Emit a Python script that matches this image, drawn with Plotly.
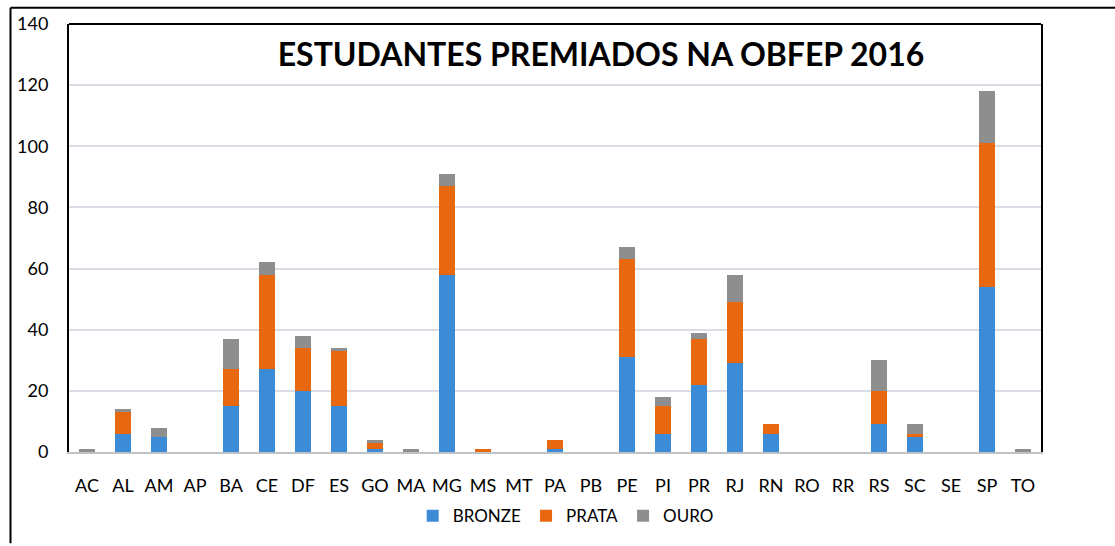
import plotly.graph_objects as go

states = ["AC", "AL", "AM", "AP", "BA", "CE", "DF", "ES", "GO", "MA", "MG", "MS", "MT", "PA",
          "PB", "PE", "PI", "PR", "RJ", "RN", "RO", "RR", "RS", "SC", "SE", "SP", "TO"]
bronze = [0, 6, 5, 0, 15, 27, 20, 15, 1, 0, 58, 0, 0, 1, 0, 31, 6, 22, 29, 6, 0, 0, 9, 5, 0, 54, 0]
prata = [0, 7, 0, 0, 12, 31, 14, 18, 2, 0, 29, 1, 0, 3, 0, 32, 9, 15, 20, 3, 0, 0, 11, 1, 0, 47, 0]
ouro = [1, 1, 3, 0, 10, 4, 4, 1, 1, 1, 4, 0, 0, 0, 0, 4, 3, 2, 9, 0, 0, 0, 10, 3, 0, 17, 1]
y_ticks = [0, 20, 40, 60, 80, 100, 120, 140]

FONT = "Lato"

fig = go.Figure()
fig.add_trace(go.Bar(name="BRONZE", x=states, y=bronze, marker=dict(color="#3b8bd6", line=dict(width=0))))
fig.add_trace(go.Bar(name="PRATA", x=states, y=prata, marker=dict(color="#e8680f", line=dict(width=0))))
fig.add_trace(go.Bar(name="OURO", x=states, y=ouro, marker=dict(color="#8e8e8e", line=dict(width=0))))

fig.update_layout(
    barmode="stack",
    bargap=0.58,
    width=1115,
    height=546,
    margin=dict(l=69, r=74, t=22, b=92),
    paper_bgcolor="white",
    plot_bgcolor="white",
    font=dict(family=FONT, color="black", size=18),
    title=dict(
        text="<b>ESTUDANTES PREMIADOS NA OBFEP 2016</b>",
        x=0.539, xanchor="center", xref="container",
        y=1 - 55 / 546, yanchor="middle", yref="container",
        font=dict(family=FONT, size=32, color="black"),
    ),
    legend=dict(
        orientation="h",
        x=0.511, xanchor="center",
        y=-0.150, yanchor="middle",
        font=dict(family=FONT, size=17, color="black"),
        traceorder="normal",
        itemwidth=30,
    ),
    showlegend=True,
)

fig.update_xaxes(
    type="category",
    showgrid=False,
    showline=True, linecolor="#bfc3c8", linewidth=2,
    ticks="", ticklabelstandoff=16,
    tickfont=dict(family=FONT, size=18, color="black"),
)
fig.update_yaxes(
    range=[0, 140],
    tickvals=y_ticks,
    showgrid=True, gridcolor="#dadee4", gridwidth=2,
    zeroline=False,
    showline=True, linecolor="black", linewidth=2, mirror=True,
    ticks="", ticklabelstandoff=15,
    tickfont=dict(family=FONT, size=18, color="black"),
)

# top border of plot area
fig.add_shape(type="line", xref="paper", yref="paper", x0=0, x1=1, y0=1, y1=1,
              line=dict(color="black", width=2))
# outer frame (left and top edges)
lx = (10.5 - 69) / 972
ty = 1 + (22 - 5.5) / 432
rx = (1115 - 69) / 972
by = (454 - 546) / 432
fig.add_shape(type="line", xref="paper", yref="paper", x0=lx, x1=rx, y0=ty, y1=ty,
              line=dict(color="black", width=2))
fig.add_shape(type="line", xref="paper", yref="paper", x0=lx, x1=lx, y0=ty, y1=by,
              line=dict(color="black", width=2))

fig.write_html("out.html", config={"displayModeBar": False},
               post_script="document.body.style.margin='0';")
